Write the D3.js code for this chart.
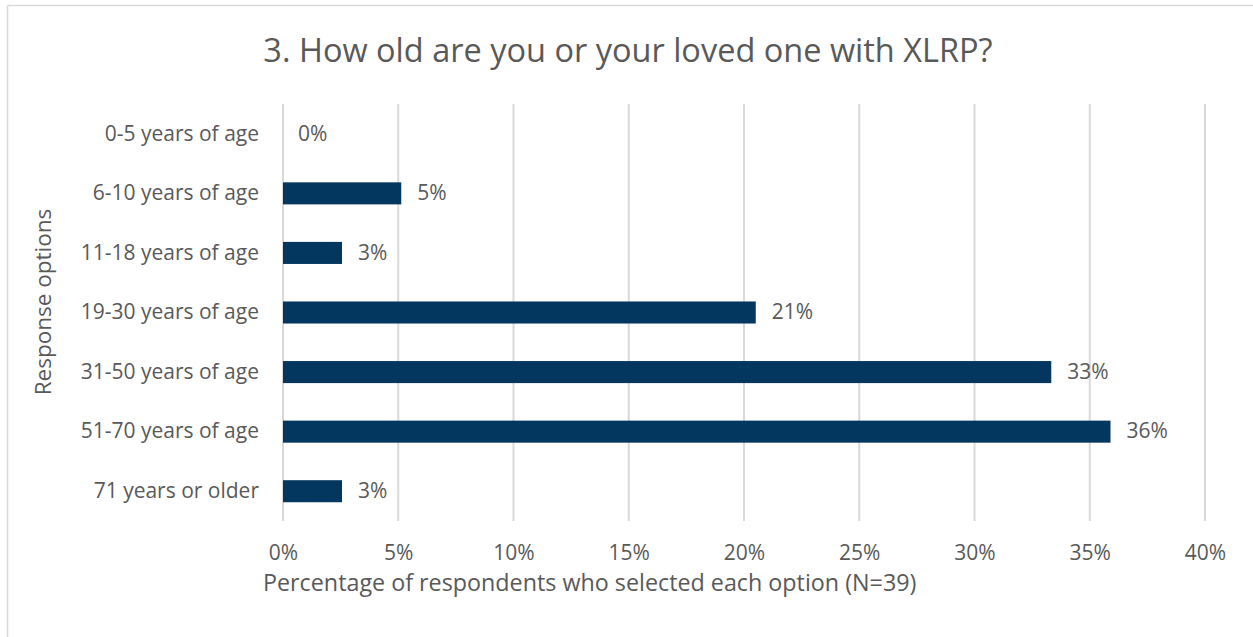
<!DOCTYPE html>
<html>
<head>
<meta charset="utf-8">
<script src="https://cdn.jsdelivr.net/npm/d3@7"></script>
<style>
  html, body { margin: 0; padding: 0; background: #fff; }
  svg { display: block; }
  text { font-family: "Open Sans", "Noto Sans", sans-serif; fill: #595959; }
</style>
</head>
<body>
<svg id="chart" width="1253" height="637"></svg>
<script>
const categories = ["0-5 years of age", "6-10 years of age", "11-18 years of age", "19-30 years of age", "31-50 years of age", "51-70 years of age", "71 years or older"];
const values = [0, 5.13, 2.56, 20.51, 33.33, 35.90, 2.56];
const valueLabels = ["0%", "5%", "3%", "21%", "33%", "36%", "3%"];
const xTicks = [0, 5, 10, 15, 20, 25, 30, 35, 40];
const titleText = "3. How old are you or your loved one with XLRP?";
const xTitle = "Percentage of respondents who selected each option (N=39)";
const yTitle = "Response options";

const svg = d3.select("#chart");
const W = 1253, H = 637;
const m = { left: 283, right: 1205, top: 104, bottom: 521 };
const tickFont = "21px";

// chart border (top and left visible)
svg.append("line").attr("x1", 7.5).attr("x2", W).attr("y1", 5.5).attr("y2", 5.5).attr("stroke", "#d9d9d9").attr("stroke-width", 1.5);
svg.append("line").attr("x1", 7.5).attr("x2", 7.5).attr("y1", 5.5).attr("y2", H).attr("stroke", "#d9d9d9").attr("stroke-width", 1.5);

const x = d3.scaleLinear().domain([0, 40]).range([m.left, m.right]);
const y = d3.scaleBand().domain(categories).range([m.top, m.bottom]).paddingInner(0.63).paddingOuter(0.315);

// gridlines
svg.append("g").selectAll("line").data(xTicks).join("line")
  .attr("x1", d => x(d)).attr("x2", d => x(d))
  .attr("y1", m.top).attr("y2", m.bottom)
  .attr("stroke", "#d9d9d9").attr("stroke-width", 2);

// x axis labels
const xAxis = d3.axisBottom(x).tickValues(xTicks).tickFormat(d => d + "%").tickSize(0).tickPadding(0);
const gx = svg.append("g").attr("transform", `translate(0, ${m.bottom})`).call(xAxis);
gx.select(".domain").remove();
gx.selectAll("text").attr("fill", "#595959").style("font-size", tickFont).attr("dy", null).attr("y", 39)
  .style("font-family", "'Open Sans', sans-serif");

// y axis labels
const yAxis = d3.axisLeft(y).tickSize(0).tickPadding(24);
const gy = svg.append("g").attr("transform", `translate(${m.left}, 0)`).call(yAxis);
gy.select(".domain").remove();
gy.selectAll("text").attr("fill", "#595959").style("font-size", tickFont).attr("dy", "0.32em")
  .style("font-family", "'Open Sans', sans-serif");

// bars
svg.append("g").selectAll("rect").data(values).join("rect")
  .attr("x", x(0))
  .attr("y", (d, i) => y(categories[i]))
  .attr("width", d => x(d) - x(0))
  .attr("height", y.bandwidth())
  .attr("fill", "#03375f");

// value labels
svg.append("g").selectAll("text").data(values).join("text")
  .attr("x", d => x(d) + (d > 0 ? 16 : 15))
  .attr("y", (d, i) => y(categories[i]) + y.bandwidth() / 2)
  .attr("dy", "0.32em")
  .style("font-size", tickFont)
  .text((d, i) => valueLabels[i]);

// title
svg.append("text").attr("x", 628).attr("y", 62).attr("text-anchor", "middle")
  .style("font-size", "32.5px").text(titleText);

// x title
svg.append("text").attr("x", 263).attr("y", 591).attr("text-anchor", "start")
  .style("font-size", "23.3px").text(xTitle);

// y title
svg.append("text").attr("transform", "translate(51, 302) rotate(-90)").attr("text-anchor", "middle")
  .style("font-size", "22.5px").text(yTitle);
</script>
</body>
</html>
